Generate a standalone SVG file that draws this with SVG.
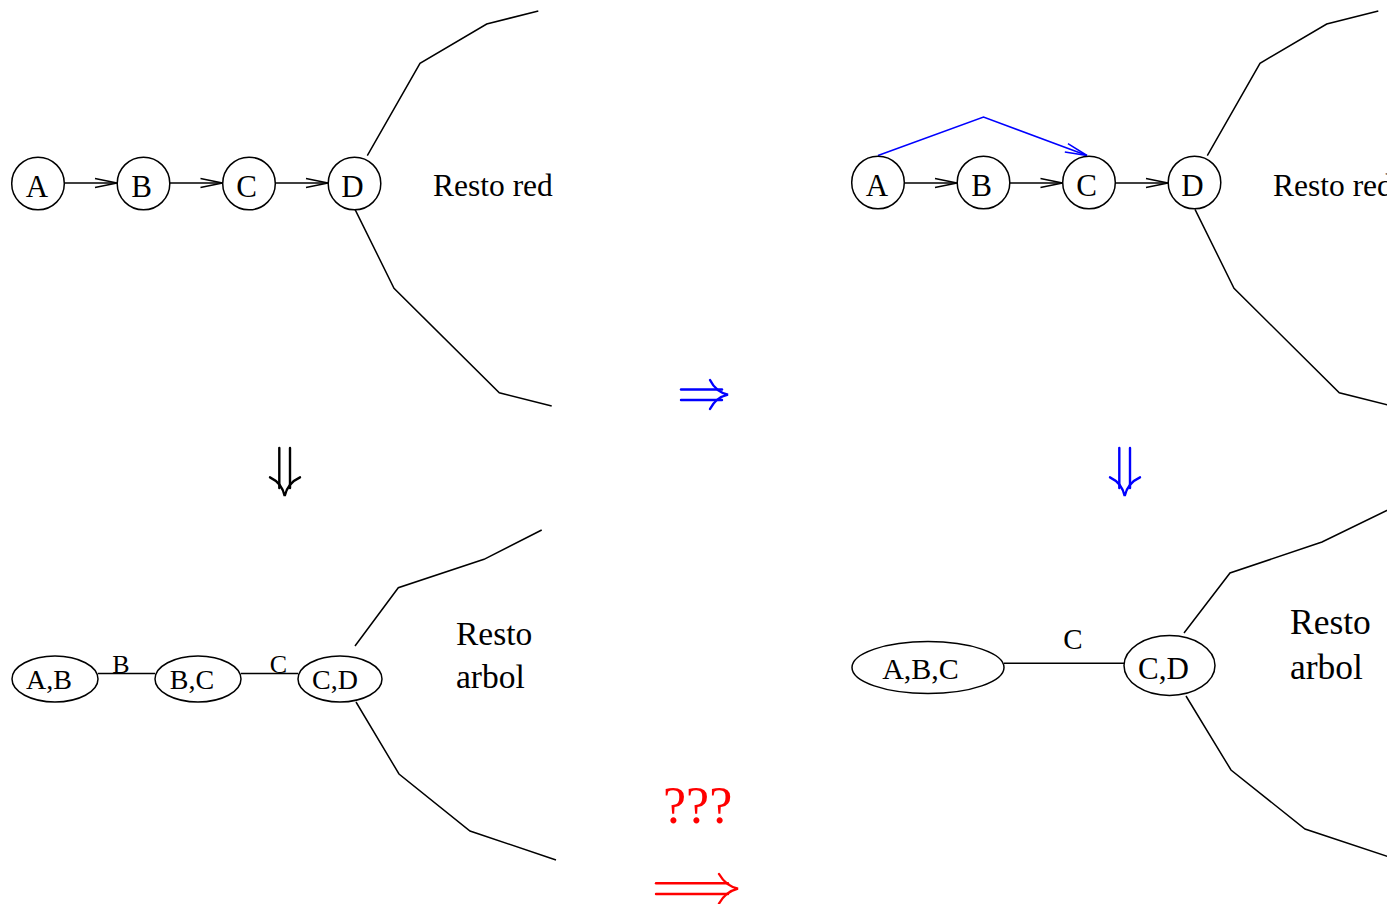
<svg xmlns="http://www.w3.org/2000/svg" width="1387" height="904" viewBox="0 0 1387 904">
<style>
.n{fill:#fff;stroke:#000;stroke-width:1.5}
.l{fill:none;stroke:#000;stroke-width:1.5}
.b{fill:none;stroke:#0000ff;stroke-width:1.5}
.t{font-family:"Liberation Serif","Times New Roman",serif;fill:#000}
.big{fill:none;stroke-width:2.4;stroke-linecap:round}
</style>
<defs>
<marker id="ah" markerUnits="userSpaceOnUse" markerWidth="26" markerHeight="12" refX="22" refY="5" orient="auto" overflow="visible">
<path d="M0,0.5 L22,5 L0,9.5" fill="none" stroke="#000" stroke-width="1.5"/>
</marker>
<marker id="ahb" markerUnits="userSpaceOnUse" markerWidth="26" markerHeight="12" refX="22" refY="5" orient="auto" overflow="visible">
<path d="M0,0.5 L22,5 L0,9.5" fill="none" stroke="#0000ff" stroke-width="1.5"/>
</marker>
</defs>

<g id="connectors">
<line class="l" x1="64.5" y1="183" x2="117" y2="183" marker-end="url(#ah)"/>
<line class="l" x1="169.5" y1="183" x2="222.5" y2="183" marker-end="url(#ah)"/>
<line class="l" x1="275" y1="183" x2="328" y2="183" marker-end="url(#ah)"/>
<polyline class="l" points="367.3,155.7 420,63.3 486.7,24 538.3,11"/>
<polyline class="l" points="355,209.3 394,288.3 499.3,392.7 551.7,406"/>
<line class="l" x1="904.5" y1="183" x2="957" y2="183" marker-end="url(#ah)"/>
<line class="l" x1="1009.5" y1="183" x2="1062.5" y2="183" marker-end="url(#ah)"/>
<line class="l" x1="1115" y1="183" x2="1168" y2="183" marker-end="url(#ah)"/>
<polyline class="b" points="878,155.5 983.5,117 1087,155.5" marker-end="url(#ahb)"/>
<polyline class="l" points="1207.3,155.7 1260,63.3 1326.7,24 1378.3,11"/>
<polyline class="l" points="1195,209.3 1234,288.3 1339.3,392.7 1391.7,406"/>
<line class="l" x1="98" y1="673.5" x2="155" y2="673.5"/>
<line class="l" x1="241" y1="673.5" x2="298" y2="673.5"/>
<polyline class="l" points="355,646 398.3,587.7 484,559.3 541.7,530"/>
<polyline class="l" points="356,702 399,774 470,831 556,860"/>
<line class="l" x1="1004" y1="663.3" x2="1124" y2="663.3"/>
<polyline class="l" points="1184,633 1230,573 1322,542 1392,508"/>
<polyline class="l" points="1186,696 1231,770 1305,829 1392,858"/>
</g>

<g id="bigarrows">
<g id="arrow-right-blue" stroke="#0000ff" class="big">
<line x1="681" y1="389.5" x2="722" y2="389.5"/>
<line x1="681" y1="400" x2="722" y2="400"/>
<path d="M710,380 Q716,392 728,394.7 Q716,397.5 710,409"/>
</g>
<g id="arrow-down-black" stroke="#000" class="big">
<line x1="279.3" y1="448" x2="279.3" y2="488"/>
<line x1="290" y1="448" x2="290" y2="488"/>
<path d="M270,477.3 Q282,483 284.7,496 Q287.5,483 300,477.3"/>
</g>
<g id="arrow-down-blue" stroke="#0000ff" class="big">
<line x1="1119.3" y1="448" x2="1119.3" y2="488"/>
<line x1="1130" y1="448" x2="1130" y2="488"/>
<path d="M1110,477.3 Q1122,483 1124.7,496 Q1127.5,483 1140,477.3"/>
</g>
<g id="arrow-long-red" stroke="#ff0000" class="big">
<line x1="656" y1="883.3" x2="728" y2="883.3"/>
<line x1="656" y1="894" x2="728" y2="894"/>
<path d="M719,874 Q726,886 738,888.7 Q726,891.5 719,903.5"/>
</g>
</g>

<g id="node-A1"><circle class="n" cx="38" cy="183.5" r="26.3"/><text class="t" x="37" y="196.5" font-size="31" text-anchor="middle">A</text></g>
<g id="node-B1"><circle class="n" cx="143.5" cy="183.5" r="26.3"/><text class="t" x="141.5" y="196.5" font-size="31" text-anchor="middle">B</text></g>
<g id="node-C1"><circle class="n" cx="249" cy="183.5" r="26.3"/><text class="t" x="246.5" y="196.5" font-size="31" text-anchor="middle">C</text></g>
<g id="node-D1"><circle class="n" cx="354.5" cy="183.5" r="26.3"/><text class="t" x="352.5" y="196.5" font-size="31" text-anchor="middle">D</text></g>
<g id="label-resto-red-1"><text class="t" x="433" y="196" font-size="31.5">Resto red</text></g>

<g id="node-A2"><circle class="n" cx="878" cy="182.5" r="26.3"/><text class="t" x="877" y="196" font-size="31" text-anchor="middle">A</text></g>
<g id="node-B2"><circle class="n" cx="983.5" cy="182.5" r="26.3"/><text class="t" x="981.5" y="196" font-size="31" text-anchor="middle">B</text></g>
<g id="node-C2"><circle class="n" cx="1089" cy="182.5" r="26.3"/><text class="t" x="1086.5" y="196" font-size="31" text-anchor="middle">C</text></g>
<g id="node-D2"><circle class="n" cx="1194.5" cy="182.5" r="26.3"/><text class="t" x="1192.5" y="196" font-size="31" text-anchor="middle">D</text></g>
<g id="label-resto-red-2"><text class="t" x="1273" y="196" font-size="31.5">Resto red</text></g>

<g id="node-AB"><ellipse class="n" cx="55" cy="679" rx="43" ry="23"/><text class="t" x="49" y="688.5" font-size="28" text-anchor="middle">A,B</text></g>
<g id="node-BC"><ellipse class="n" cx="198" cy="679" rx="43" ry="23"/><text class="t" x="192" y="688.5" font-size="28" text-anchor="middle">B,C</text></g>
<g id="node-CD1"><ellipse class="n" cx="340" cy="679" rx="42" ry="23"/><text class="t" x="335" y="688.5" font-size="28" text-anchor="middle">C,D</text></g>
<g id="edge-labels-1">
<text class="t" x="121" y="673" font-size="26" text-anchor="middle">B</text>
<text class="t" x="278.5" y="673" font-size="26" text-anchor="middle">C</text>
</g>
<g id="label-resto-arbol-1"><text class="t" x="456" y="645" font-size="33.5">Resto</text><text class="t" x="456" y="688" font-size="33.5">arbol</text></g>

<g id="node-ABC"><ellipse class="n" cx="928" cy="667.5" rx="76" ry="26"/><text class="t" x="920.5" y="678.5" font-size="30" text-anchor="middle">A,B,C</text></g>
<g id="node-CD2"><ellipse class="n" cx="1169.5" cy="665.5" rx="45.5" ry="30"/><text class="t" x="1163.5" y="678.5" font-size="31" text-anchor="middle">C,D</text></g>
<g id="edge-label-2"><text class="t" x="1073" y="648.5" font-size="29" text-anchor="middle">C</text></g>
<g id="label-resto-arbol-2"><text class="t" x="1290" y="634" font-size="35.5">Resto</text><text class="t" x="1290" y="679" font-size="35.5">arbol</text></g>

<g id="label-qqq"><text class="t" x="663" y="823" font-size="52" style="fill:#ff0000">???</text></g>
</svg>
